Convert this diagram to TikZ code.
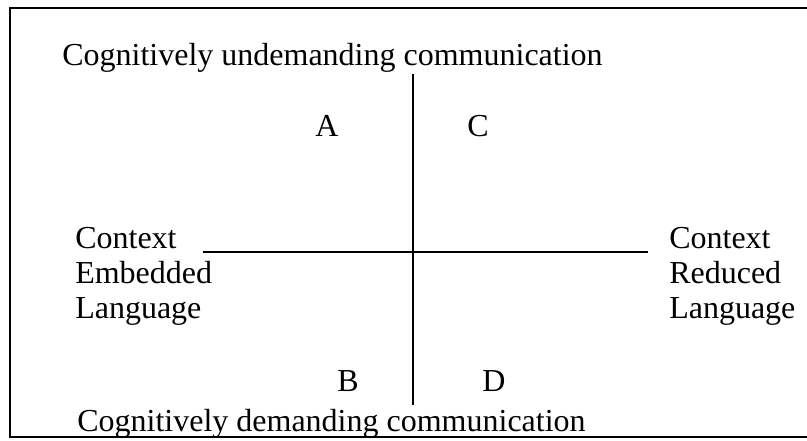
\documentclass[tikz,border=0pt]{standalone}
\usepackage{fontspec}
\setmainfont{Liberation Serif}
\begin{document}
\begin{tikzpicture}[x=0.75pt,y=-0.75pt,
  lbl/.style={font=\fontsize{24}{28}\selectfont, inner sep=0pt, anchor=base west},
  clbl/.style={font=\fontsize{24}{28}\selectfont, inner sep=0pt, anchor=base},
  axisline/.style={line width=1.5pt},
  frameline/.style={line width=1.5pt}]
\useasboundingbox (0,0) rectangle (807,440);
% frame (left, top, bottom)
\coordinate (ftr) at (807,8);
\coordinate (ftl) at (10,8);
\coordinate (fbl) at (10,437);
\coordinate (fbr) at (807,437);
\draw[frameline] (ftr) -- (ftl) -- (fbl) -- (fbr);
% axes
\coordinate (hl) at (203,252);
\coordinate (hr) at (648,252);
\coordinate (vt) at (413,74);
\coordinate (vb) at (413,405);
\draw[axisline] (hl) -- (hr);
\draw[axisline] (vt) -- (vb);
% titles
\node[lbl] (top) at (62,65) {Cognitively undemanding communication};
\node[lbl] (bot) at (77,431) {Cognitively demanding communication};
% quadrant letters
\node[clbl] (A) at (327,136) {A};
\node[clbl] (C) at (478,136) {C};
\node[clbl] (B) at (348,391) {B};
\node[clbl] (D) at (494,391) {D};
% left label
\node[lbl] (l1) at (75,248) {Context};
\node[lbl] (l2) at (75,283) {Embedded};
\node[lbl] (l3) at (75,318) {Language};
% right label
\node[lbl] (r1) at (669,248) {Context};
\node[lbl] (r2) at (669,283) {Reduced};
\node[lbl] (r3) at (669,318) {Language};
\end{tikzpicture}
\end{document}
